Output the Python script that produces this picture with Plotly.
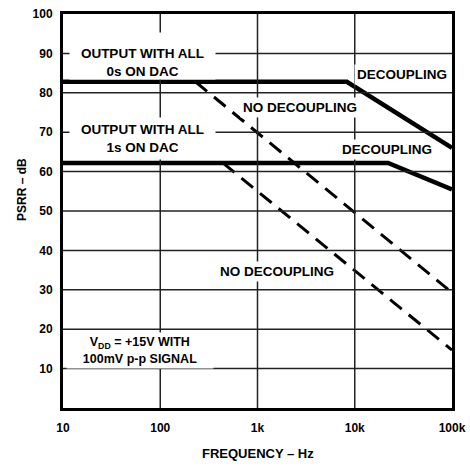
import math
import plotly.graph_objects as go

# Data
freq_0s_dec = [10, 8300, 100000]
psrr_0s_dec = [82.8, 82.8, 66.0]

freq_1s_dec = [10, 22000, 100000]
psrr_1s_dec = [62.2, 62.2, 55.5]

freq_0s_nodec = [230, 100000]
psrr_0s_nodec = [82.8, 29.3]

freq_1s_nodec = [440, 100000]
psrr_1s_nodec = [62.2, 14.7]

x_tickvals = [10, 100, 1000, 10000, 100000]
x_ticktext = ["10", "100", "1k", "10k", "100k"]
y_tickvals = [10, 20, 30, 40, 50, 60, 70, 80, 90, 100]

FONT = "Liberation Sans"
W, H = 470, 466
ML, MR, MT, MB = 63, 18, 14, 58
PW, PH = W - ML - MR, H - MT - MB
XMIN, XMAX = x_tickvals[0], x_tickvals[-1]
YMIN, YMAX = 0, y_tickvals[-1]
LXMIN, LXMAX = math.log10(XMIN), math.log10(XMAX)


def px(xp):
    return (xp - ML) / PW


def py(yp):
    return 1 - (yp - MT) / PH


fig = go.Figure()

solid = dict(color="black", width=4.5)
dashed = dict(color="black", width=3, dash="15px,9px")
fig.add_trace(go.Scatter(x=freq_0s_dec, y=psrr_0s_dec, mode="lines", line=solid, showlegend=False))
fig.add_trace(go.Scatter(x=freq_1s_dec, y=psrr_1s_dec, mode="lines", line=solid, showlegend=False))
fig.add_trace(go.Scatter(x=freq_0s_nodec, y=psrr_0s_nodec, mode="lines", line=dashed, showlegend=False))
fig.add_trace(go.Scatter(x=freq_1s_nodec, y=psrr_1s_nodec, mode="lines", line=dashed, showlegend=False))

# grid lines built from the tick values (drawn as shapes on top)
grid = dict(color="#222", width=1.5)
shapes = []
for v in x_tickvals[1:-1]:
    f = (math.log10(v) - LXMIN) / (LXMAX - LXMIN)
    shapes.append(dict(type="line", xref="paper", yref="paper", x0=f, x1=f,
                       y0=0, y1=1, line=grid, layer="above"))
for v in y_tickvals[:-1]:
    shapes.append(dict(type="line", xref="paper", yref="y", x0=0, x1=1, y0=v, y1=v,
                       line=grid, layer="above"))
fig.update_layout(shapes=shapes)

tf = dict(family=FONT, size=13.5, color="black", weight="bold")


def lab(text, xp, yp, bg=True, font=tf, **kw):
    d = dict(x=px(xp), y=py(yp), xref="paper", yref="paper", text=text, showarrow=False,
             font=font, xanchor="center", yanchor="middle")
    if bg:
        d.update(bgcolor="white", borderpad=2)
    d.update(kw)
    fig.add_annotation(**d)


# white boxed two-line labels (box edges in pixels: x 70-215)
lab("OUTPUT WITH ALL<br>0s ON DAC", 142.5, 56, width=145, height=46, borderpad=0, valign="bottom")
lab("OUTPUT WITH ALL<br>1s ON DAC", 142.5, 138.5, width=145, height=41, borderpad=0)
lab("V<sub>DD</sub> = +15V WITH<br>100mV p-p SIGNAL", 140, 350.5, width=146, height=35, borderpad=0,
    font=dict(family=FONT, size=12.5, color="black", weight="bold"))
lab("DECOUPLING", 402, 75)
lab("NO DECOUPLING", 300, 108)
lab("DECOUPLING", 387, 150)
lab("NO DECOUPLING", 277, 271)

# axis titles
lab("PSRR – dB", 22, 190, bg=False, textangle=-90,
    font=dict(family=FONT, size=12, color="black", weight="bold"))
lab("FREQUENCY – Hz", 258, 453, bg=False,
    font=dict(family=FONT, size=13, color="black", weight="bold"))

fig.update_xaxes(type="log", range=[LXMIN, LXMAX], tickvals=x_tickvals, ticktext=x_ticktext,
                 showgrid=False,
                 showline=True, linecolor="black", linewidth=3, mirror=True,
                 ticks="", ticklabelstandoff=7,
                 tickfont=dict(family=FONT, size=12, color="black", weight="bold"),
                 zeroline=False)
fig.update_yaxes(range=[YMIN, YMAX], tickvals=y_tickvals,
                 showgrid=False,
                 showline=True, linecolor="black", linewidth=3, mirror=True,
                 ticks="", ticklabelstandoff=5,
                 tickfont=dict(family=FONT, size=12, color="black", weight="bold"),
                 zeroline=False)

fig.update_layout(width=W, height=H, margin=dict(l=ML, r=MR, t=MT, b=MB, autoexpand=False),
                  paper_bgcolor="white", plot_bgcolor="white",
                  font=dict(family=FONT, color="black"))

fig.write_html("out.html", post_script="document.body.style.margin='0px';",
               config={"displayModeBar": False})
